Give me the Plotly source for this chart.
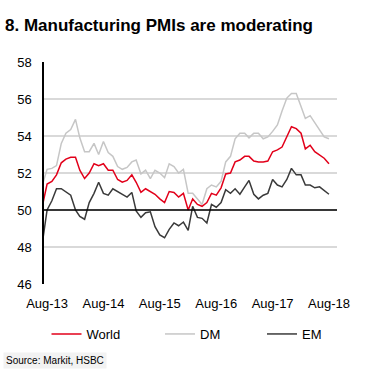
import plotly.graph_objects as go
import pandas as pd

# ---- data ----
months = pd.date_range("2013-07-01", "2018-08-01", freq="MS")  # Jul-13 .. Aug-18

world = [50.2,
         51.4, 51.55, 51.9, 52.55, 52.75, 52.85, 52.85, 52.15, 51.7, 52.0,
         52.5, 52.4, 52.5, 52.15, 52.15, 51.65, 51.5, 51.6, 51.9, 51.5,
         50.95, 51.15, 51.0, 50.85, 50.6, 50.4, 51.0, 50.95, 50.7, 50.9,
         50.0, 50.6, 50.3, 50.2, 50.4, 50.9, 50.8, 51.2, 51.95, 52.0,
         52.6, 52.7, 52.9, 52.9, 52.65, 52.6, 52.6, 52.65, 53.15, 53.25,
         53.4, 54.0, 54.5, 54.4, 54.15, 53.3, 53.5, 53.15, 52.95, 52.8,
         52.5]
dm = [51.35,
      52.2, 52.25, 52.4, 53.6, 54.15, 54.35, 54.9, 53.9, 53.15, 53.15,
      53.6, 53.0, 53.7, 53.1, 52.9, 52.35, 52.2, 52.3, 52.6, 52.7,
      51.95, 52.15, 51.7, 52.15, 52.0, 51.75, 52.5, 52.35, 52.0, 52.2,
      50.9, 50.9, 50.6, 50.3, 51.15, 51.35, 51.25, 51.55, 52.6, 52.9,
      53.85, 54.15, 54.15, 53.9, 54.15, 54.15, 53.85, 53.95, 54.25, 54.6,
      55.35, 56.05, 56.3, 56.3, 55.6, 54.95, 55.1, 54.7, 54.3, 53.95,
      53.85]
em = [48.2,
      50.0, 50.5, 51.15, 51.15, 51.0, 50.8, 50.0, 49.65, 49.5, 50.4,
      50.9, 51.5, 50.9, 50.8, 51.15, 51.0, 50.85, 50.7, 50.95, 49.95,
      49.6, 49.85, 49.9, 49.1, 48.65, 48.5, 48.95, 49.3, 49.15, 49.35,
      48.9, 50.2, 49.6, 49.55, 49.3, 50.3, 50.15, 50.4, 51.1, 50.9,
      51.15, 50.85, 51.25, 51.6, 50.85, 50.6, 50.8, 50.9, 51.65, 51.35,
      51.25, 51.65, 52.25, 51.9, 51.9, 51.35, 51.35, 51.2, 51.25, 51.05,
      50.85]

tick_vals = ["2013-08-01", "2014-08-01", "2015-08-01", "2016-08-01", "2017-08-01", "2018-08-01"]
tick_text = ["Aug-13", "Aug-14", "Aug-15", "Aug-16", "Aug-17", "Aug-18"]
y_ticks = [46, 48, 50, 52, 54, 56, 58]
threshold = 50

FONT = "Liberation Sans, Arial, sans-serif"

fig = go.Figure()
fig.add_trace(go.Scatter(x=months, y=world, mode="lines", name="World",
                         line=dict(color="#e2001a", width=1.5), legend="legend"))
fig.add_trace(go.Scatter(x=months, y=dm, mode="lines", name="DM",
                         line=dict(color="#c6c6c6", width=1.5), legend="legend2"))
fig.add_trace(go.Scatter(x=months, y=em, mode="lines", name="EM",
                         line=dict(color="#3a3a3a", width=1.5), legend="legend3"))

fig.add_shape(type="line", xref="paper", x0=0, x1=1, yref="y", y0=threshold, y1=threshold,
              line=dict(color="black", width=1.5), layer="above")

legend_common = dict(orientation="h", xref="container", yref="container", yanchor="middle",
                     y=1 - 334 / 377, bgcolor="rgba(0,0,0,0)",
                     font=dict(family=FONT, size=13, color="black"))

fig.update_layout(
    width=368, height=377,
    margin=dict(l=44, r=31, t=62, b=93),
    paper_bgcolor="white", plot_bgcolor="white",
    font=dict(family=FONT, color="black"),
    title=dict(text="<b>8. Manufacturing PMIs are moderating</b>",
               xref="container", x=5 / 368, xanchor="left",
               yref="container", y=1 - 25.5 / 377, yanchor="middle",
               font=dict(family=FONT, size=17, color="black")),
    xaxis=dict(type="date", range=["2013-07-12", "2018-09-22"],
               tickvals=tick_vals, ticktext=tick_text, showgrid=False,
               showline=False, zeroline=False, ticks="", automargin=False,
               tickfont=dict(family=FONT, size=13, color="black"),
               ticklabelstandoff=10),
    yaxis=dict(range=[46, 58], tickvals=y_ticks, showgrid=True, gridcolor="#d9d9d9",
               gridwidth=1.5, showline=True, linecolor="black", linewidth=1.5,
               zeroline=False, ticks="", automargin=False,
               tickfont=dict(family=FONT, size=13, color="black"),
               ticklabelstandoff=8),
    legend=dict(x=46.5 / 368, **legend_common),
    legend2=dict(x=160 / 368, **legend_common),
    legend3=dict(x=262 / 368, **legend_common),
    showlegend=True,
    annotations=[dict(text="Source: Markit, HSBC", xref="paper", yref="paper",
                      x=(3 - 44) / 293, y=(284 - 360.5) / 222, xanchor="left", yanchor="middle",
                      showarrow=False, bgcolor="#f2f2f2", borderpad=2,
                      font=dict(family=FONT, size=10, color="black"))],
)

fig.write_html("out.html", config={"displayModeBar": False},
               post_script="document.body.style.margin='0';")
